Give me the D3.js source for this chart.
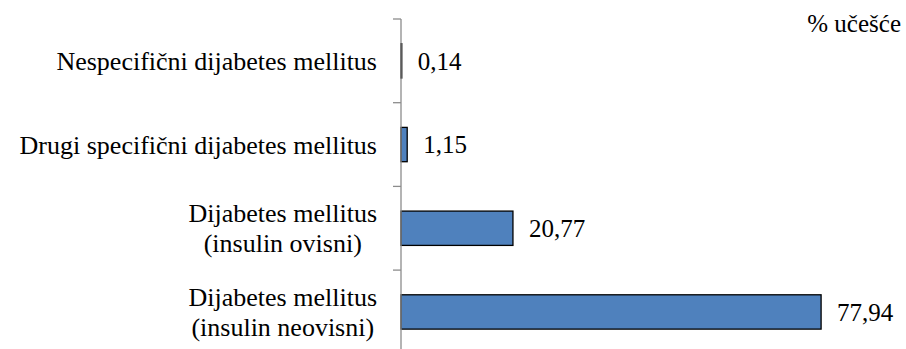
<!DOCTYPE html>
<html>
<head>
<script src="https://cdn.jsdelivr.net/npm/d3@7"></script>
</head>
<body style="margin:0">
<div id="chart"></div>
<script>
// categories, top to bottom (each entry is the label lines)
var categories = [
  ["Nespecifični dijabetes mellitus"],
  ["Drugi specifični dijabetes mellitus"],
  ["Dijabetes mellitus", "(insulin ovisni)"],
  ["Dijabetes mellitus", "(insulin neovisni)"]
];
var values = [0.14, 1.15, 20.77, 77.94];
var valueLabels = ["0,14", "1,15", "20,77", "77,94"];
var unitLabel = "% učešće";

var width = 906;
var height = 349;
var axisX = 401;
var plotTop = 19;
var band = 83.7;

var svg = d3.select("#chart")
  .append("svg")
  .attr("width", width)
  .attr("height", height);

var x = d3.scaleLinear()
  .domain([0, 90])
  .range([axisX, axisX + 90 * 5.39]);

var y = d3.scaleBand()
  .domain(d3.range(categories.length))
  .range([plotTop, plotTop + band * categories.length])
  .paddingInner(0.59)
  .paddingOuter(0.295);

// bars
svg.selectAll(".bar")
  .data(values)
  .enter()
  .append("rect")
  .attr("class", "bar")
  .attr("x", x(0))
  .attr("y", (d, i) => y(i))
  .attr("width", d => x(d) - x(0))
  .attr("height", y.bandwidth())
  .attr("fill", "#4f81bd")
  .attr("stroke", "#000")
  .attr("stroke-width", 1.3);

// axis line and ticks at category boundaries
var axis = svg.append("g");
axis.append("line")
  .attr("x1", axisX).attr("x2", axisX)
  .attr("y1", plotTop).attr("y2", height)
  .attr("stroke", "#8c8c8c")
  .attr("stroke-width", 1.3);

axis.selectAll(".tick")
  .data(d3.range(categories.length + 1))
  .enter()
  .append("line")
  .attr("x1", axisX - 8).attr("x2", axisX)
  .attr("y1", i => plotTop + band * i)
  .attr("y2", i => plotTop + band * i)
  .attr("stroke", "#8c8c8c")
  .attr("stroke-width", 1.3);

// category labels: lines centred on each other, block right-aligned
var labelRight = 377;
var lineH = 30;
svg.selectAll(".cat")
  .data(categories)
  .enter()
  .append("text")
  .attr("class", "cat")
  .attr("font-size", 26)
  .attr("font-family", "Liberation Serif")
  .attr("text-anchor", "middle")
  .each(function(lines, i) {
    var g = d3.select(this);
    var cy = y(i) + y.bandwidth() / 2;
    var start = cy - (lines.length - 1) * lineH / 2;
    var spans = g.selectAll("tspan")
      .data(lines)
      .enter()
      .append("tspan")
      .attr("y", (d, j) => start + j * lineH)
      .attr("dy", "0.35em")
      .text(d => d);
    var maxW = d3.max(spans.nodes(), n => n.getComputedTextLength());
    spans.attr("x", labelRight - maxW / 2);
  });

// value labels
svg.selectAll(".val")
  .data(values)
  .enter()
  .append("text")
  .attr("class", "val")
  .attr("font-size", 25)
  .attr("font-family", "Liberation Serif")
  .attr("x", d => x(d) + 16)
  .attr("y", (d, i) => y(i) + y.bandwidth() / 2)
  .attr("dy", "0.35em")
  .text((d, i) => valueLabels[i]);

// unit label
svg.append("text")
  .attr("font-size", 25)
  .attr("font-family", "Liberation Serif")
  .attr("x", 901)
  .attr("y", 32)
  .attr("text-anchor", "end")
  .text(unitLabel);
</script>
</body>
</html>
